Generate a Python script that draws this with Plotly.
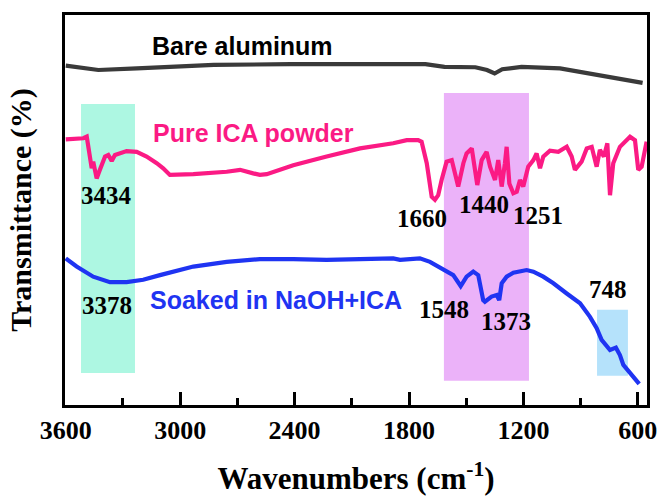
import plotly.graph_objects as go

# ---- data (wavenumber cm^-1, transmittance a.u.) ----
bare_wn = [3600, 3429, 3227, 2824, 2420, 2017, 1714, 1614, 1452, 1391, 1351, 1311, 1210, 1008, 807, 686, 575]
bare_t = [87.0, 85.9, 86.3, 87.2, 87.4, 87.4, 87.4, 86.7, 86.6, 85.9, 85.0, 86.1, 86.7, 86.3, 84.6, 83.5, 82.6]

ica_wn = [3600, 3508, 3490, 3473, 3464, 3456, 3438, 3421, 3394, 3377, 3359, 3342, 3281, 3228, 3176,
          3123, 3089, 3054, 2931, 2756, 2686, 2617, 2582, 2546, 2407, 2232, 2057, 1883, 1812, 1752,
          1734, 1707, 1681, 1664, 1647, 1629, 1603, 1576, 1559, 1542, 1515, 1498, 1471, 1454, 1442,
          1419, 1393, 1375, 1349, 1332, 1314, 1297, 1288, 1274, 1253, 1235, 1218, 1201, 1175, 1148,
          1131, 1113, 1096, 1061, 1017, 973, 947, 930, 895, 868, 842, 816, 799, 778, 760, 746, 729,
          694, 641, 615, 598, 580, 563, 554]
ica_t = [68.1, 68.4, 68.8, 63.7, 60.7, 62.4, 58.1, 60.3, 63.7, 64.1, 62.6, 64.1, 65.1, 64.9, 63.7,
         62.0, 60.7, 59.0, 59.2, 59.8, 60.3, 59.4, 59.0, 59.2, 61.5, 63.7, 65.8, 67.1, 67.9, 67.9,
         67.5, 62.0, 53.4, 52.6, 53.8, 57.7, 62.4, 62.8, 59.4, 56.0, 62.0, 64.5, 65.8, 59.4, 56.4,
         62.8, 64.9, 61.1, 57.7, 62.8, 56.0, 62.0, 66.2, 56.8, 54.3, 54.7, 57.7, 56.0, 61.1, 62.8,
         64.5, 60.7, 63.7, 65.2, 64.9, 66.2, 63.7, 60.3, 62.4, 65.8, 66.2, 61.1, 65.4, 63.7, 67.1,
         53.8, 62.0, 66.2, 68.8, 67.9, 60.3, 61.1, 66.2, 67.5]

soak_wn = [3600, 3543, 3456, 3368, 3281, 3194, 3106, 2931, 2756, 2582, 2407, 2232, 2057, 1883, 1847,
           1743, 1690, 1620, 1568, 1529, 1498, 1463, 1437, 1411, 1402, 1367, 1340, 1327, 1314, 1288,
           1253, 1183, 1148, 1096, 1043, 973, 903, 851, 816, 790, 746, 715, 694, 676, 641, 593]
soak_t = [37.6, 35.5, 32.9, 31.5, 31.5, 32.1, 33.3, 35.5, 36.7, 37.4, 37.4, 37.2, 37.4, 37.6, 37.2,
          37.6, 36.7, 34.6, 33.3, 30.5, 32.9, 34.2, 33.3, 26.9, 26.5, 27.8, 28.2, 26.9, 31.2, 32.9,
          33.9, 34.6, 34.2, 32.9, 31.2, 28.6, 26.1, 22.6, 19.7, 16.7, 14.1, 14.7, 12.8, 10.3, 8.1, 5.4]

# highlighted bands
band_wn_start = [3520, 1617, 814]
band_wn_end = [3237, 1171, 652]
band_t_bottom = [8.2, 6.2, 7.5]
band_t_top = [77.2, 80.0, 24.4]
band_colors = ["#adf7e2", "#ebb2f9", "#b5e2fb"]

# peak labels
peak_labels = ["3434", "1660", "1440", "1251", "3378", "1548", "1373", "748"]
peak_label_wn = [3384, 1732, 1407, 1124, 3384, 1617, 1292, 757]
peak_label_t = [53.6, 47.9, 51.3, 48.5, 25.4, 24.6, 21.5, 29.5]

series_names = ["Bare aluminum", "Pure ICA powder", "Soaked in NaOH+ICA"]
series_colors = ["#3a3a3a", "#fb1a84", "#1f34f2"]
series_label_wn = [2671, 2618, 2498]
series_label_t = [92.0, 69.8, 26.9]

x_ticks = [3600, 3000, 2400, 1800, 1200, 600]

SERIF = "Times New Roman, Liberation Serif, serif"
SANS = "Arial, Liberation Sans, sans-serif"

fig = go.Figure()
for wn, t, name, col in zip([bare_wn, ica_wn, soak_wn], [bare_t, ica_t, soak_t], series_names, series_colors):
    fig.add_trace(go.Scatter(x=wn, y=t, mode="lines", name=name,
                             line=dict(color=col, width=4.2), showlegend=False))

for x0, x1, y0, y1, c in zip(band_wn_start, band_wn_end, band_t_bottom, band_t_top, band_colors):
    fig.add_shape(type="rect", x0=x0, x1=x1, y0=y0, y1=y1, xref="x", yref="y",
                  fillcolor=c, line=dict(width=0), layer="below")

for txt, x, y in zip(peak_labels, peak_label_wn, peak_label_t):
    fig.add_annotation(x=x, y=y, text="<b>%s</b>" % txt, showarrow=False,
                       font=dict(family=SERIF, size=25, color="black"))

for txt, x, y, c in zip(series_names, series_label_wn, series_label_t, ["black", series_colors[1], series_colors[2]]):
    fig.add_annotation(x=x, y=y, text="<b>%s</b>" % txt, showarrow=False,
                       font=dict(family=SANS, size=25, color=c))

fig.update_layout(
    width=672, height=496,
    margin=dict(l=65, r=25, t=15, b=91),
    paper_bgcolor="white", plot_bgcolor="white",
    xaxis=dict(range=[3604, 552], tickvals=x_ticks, ticktext=["<b>%d</b>" % v for v in x_ticks],
               ticks="inside", ticklen=13, tickwidth=2.5, tickcolor="black",
               minor=dict(dtick=300, tick0=600, ticks="inside", ticklen=7, tickwidth=2.5, tickcolor="black"),
               showline=True, linewidth=3, linecolor="black", mirror=True,
               showgrid=False, zeroline=False,
               tickfont=dict(family=SERIF, size=26, color="black"),
               ticklabelstandoff=0,
               title=dict(text="<b>Wavenumbers (cm<sup>-1</sup>)</b>",
                          font=dict(family=SERIF, size=31, color="black"), standoff=24),
               automargin=False),
    yaxis=dict(range=[0, 100], showticklabels=False, ticks="",
               showline=True, linewidth=3, linecolor="black", mirror=True,
               showgrid=False, zeroline=False,
               title=dict(text="<b>Transmittance (%)</b>",
                          font=dict(family=SERIF, size=30, color="black"), standoff=22),
               automargin=False),
)

fig.write_html("out.html", config={"displayModeBar": False},
               post_script="document.body.style.margin='0';")
